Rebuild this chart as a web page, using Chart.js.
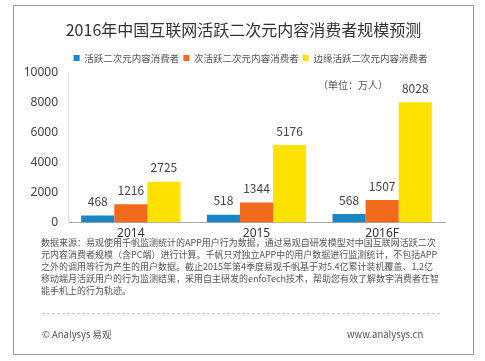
<!DOCTYPE html>
<html>
<head>
<meta charset="utf-8">
<script src="https://cdn.jsdelivr.net/npm/chart.js@4"></script>
<style>
  html,body{margin:0;padding:0;background:#fff;}
  body{width:485px;height:361px;position:relative;overflow:hidden;font-family:"Noto Sans CJK SC","Noto Sans",sans-serif;}
  #frame{position:absolute;left:13px;top:5px;width:459px;height:348px;border:1.5px solid #9a9a9a;}
  #wrap{position:absolute;left:0;top:0;width:485px;height:245px;}
  .foot{position:absolute;left:41px;font-size:9px;color:#555;white-space:nowrap;line-height:12px;}
  #dash{position:absolute;left:42px;top:313px;width:398px;border-top:1px dashed #c8c8c8;}
  .small{position:absolute;font-size:9.5px;color:#555;white-space:nowrap;}
  #unit{position:absolute;left:318px;top:77px;font-size:10px;color:#555;white-space:nowrap;}
</style>
</head>
<body>
<div id="frame"></div>
<div id="wrap"><canvas id="c" width="485" height="245"></canvas></div>
<div id="unit">（单位：万人）</div>
<div class="foot" style="top:237px">数据来源：易观使用千帆监测统计的APP用户行为数据，通过易观自研发模型对中国互联网活跃二次</div>
<div class="foot" style="top:249px">元内容消费者规模（含PC端）进行计算。千帆只对独立APP中的用户数据进行监测统计，不包括APP</div>
<div class="foot" style="top:261px">之外的调用等行为产生的用户数据。截止2015年第4季度易观千帆基于对5.4亿累计装机覆盖、1.2亿</div>
<div class="foot" style="top:273px">移动端月活跃用户的行为监测结果，采用自主研发的enfoTech技术，帮助您有效了解数字消费者在智</div>
<div class="foot" style="top:285px">能手机上的行为轨迹。</div>
<div id="dash"></div>
<div class="small" style="left:42px;top:327px">© Analysys 易观</div>
<div class="small" style="left:347px;top:327px">www.analysys.cn</div>
<script>
const categories = ["2014", "2015", "2016F"];
const seriesNames = ["活跃二次元内容消费者", "次活跃二次元内容消费者", "边缘活跃二次元内容消费者"];
const active = [468, 518, 568];
const subActive = [1216, 1344, 1507];
const marginal = [2725, 5176, 8028];
const yTicks = [0, 2000, 4000, 6000, 8000, 10000];
const colors = ["#1b86c6", "#f26b1d", "#fde200"];

const labelPlugin = {
  id: "vlabels",
  afterLayout(chart) {
    if (chart.legend) { chart.legend.left += 22; chart.legend.right += 22; }
    if (chart.titleBlock) { chart.titleBlock.left += 15; chart.titleBlock.right += 15; }
  },
  afterDatasetsDraw(chart) {
    const ctx = chart.ctx;
    ctx.save();
    ctx.font = "12px 'Noto Sans CJK SC', 'Noto Sans', sans-serif";
    ctx.fillStyle = "#444";
    ctx.textAlign = "center";
    ctx.textBaseline = "bottom";
    chart.data.datasets.forEach((ds, i) => {
      const meta = chart.getDatasetMeta(i);
      meta.data.forEach((bar, j) => {
        ctx.fillText(String(ds.data[j]), bar.x, bar.y - 8);
      });
    });
    ctx.restore();
  }
};

new Chart(document.getElementById("c"), {
  type: "bar",
  data: {
    labels: categories,
    datasets: [
      { label: seriesNames[0], data: active, backgroundColor: colors[0] },
      { label: seriesNames[1], data: subActive, backgroundColor: colors[1] },
      { label: seriesNames[2], data: marginal, backgroundColor: colors[2] }
    ]
  },
  options: {
    responsive: false,
    animation: false,
    layout: { padding: { left: 12, right: 40, top: 20, bottom: 0 } },
    datasets: { bar: { categoryPercentage: 0.79, barPercentage: 1.0 } },
    plugins: {
      title: {
        display: true,
        text: "2016年中国互联网活跃二次元内容消费者规模预测",
        color: "#333",
        font: { size: 16, family: "'Noto Sans CJK SC', sans-serif", weight: "normal" },
        padding: { top: 0, bottom: 10 }
      },
      legend: {
        display: true,
        labels: {
          boxWidth: 6, boxHeight: 6, padding: 4,
          color: "#555",
          font: { size: 9.5, family: "'Noto Sans CJK SC', sans-serif" }
        }
      },
      tooltip: { enabled: false }
    },
    scales: {
      x: {
        grid: { display: false, drawTicks: false },
        border: { color: "#aaa" },
        ticks: { color: "#333", font: { size: 12, family: "'Noto Sans', sans-serif" }, padding: 4 }
      },
      y: {
        min: 0, max: 10000,
        afterBuildTicks(axis) { axis.ticks = yTicks.map(v => ({ value: v })); },
        afterFit(axis) { axis.width = 56; },
        grid: { display: false, drawTicks: false },
        border: { color: "#ddd" },
        ticks: {
          color: "#444", font: { size: 12, family: "'Noto Sans', sans-serif" }, padding: 10,
          callback: (v) => String(v)
        }
      }
    }
  },
  plugins: [labelPlugin]
});
</script>
</body>
</html>
